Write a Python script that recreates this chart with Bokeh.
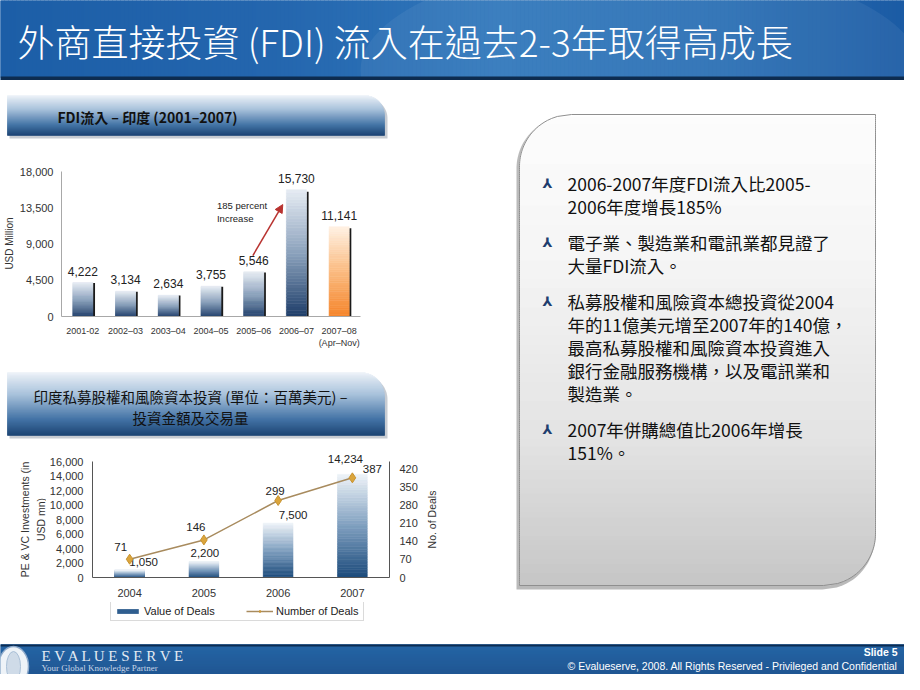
import math
from bokeh.plotting import figure
from bokeh.layouts import column, row
from bokeh.models import (Range1d, LinearAxis, FixedTicker, NumeralTickFormatter,
                          Arrow, NormalHead, Legend, LegendItem)
from bokeh.core.properties import value
from bokeh.embed import file_html
from bokeh.resources import INLINE

# ---------------- data ----------------
title_text = "外商直接投資  (FDI) 流入在過去2-3年取得高成長"

fdi_title = "FDI流入 – 印度 (2001–2007)"
fdi_periods = ["2001-02", "2002–03", "2003–04", "2004–05", "2005–06", "2006–07", "2007–08\n(Apr–Nov)"]
fdi_values = [4222, 3134, 2634, 3755, 5546, 15730, 11141]
fdi_ticks = [0, 4500, 9000, 13500, 18000]
fdi_axis_label = "USD Million"
fdi_note = ["185 percent", "Increase"]

pe_title = ["印度私募股權和風險資本投資 (單位：百萬美元) –", "投資金額及交易量"]
pe_years = ["2004", "2005", "2006", "2007"]
pe_values = [1050, 2200, 7500, 14234]
pe_deals = [71, 146, 299, 387]
pe_value_ticks = [0, 2000, 4000, 6000, 8000, 10000, 12000, 14000, 16000]
pe_deal_ticks = [0, 70, 140, 210, 280, 350, 420]
pe_left_label = ["PE & VC Investments (in", "USD mn)"]
pe_right_label = "No. of Deals"
pe_legend = ["Value of Deals", "Number of Deals"]

bullets = [
    ["2006-2007年度FDI流入比2005-", "2006年度增長185%"],
    ["電子業、製造業和電訊業都見證了", "大量FDI流入。"],
    ["私募股權和風險資本總投資從2004", "年的11億美元增至2007年的140億，",
     "最高私募股權和風險資本投資進入", "銀行金融服務機構，以及電訊業和", "製造業。"],
    ["2007年併購總值比2006年增長", "151%。"],
]
footer_slide = "Slide 5"
footer_copy = "© Evalueserve, 2008. All Rights Reserved - Privileged and Confidential"
logo_name = "E V A L U E S E R V E"
logo_tag = "Your Global Knowledge Partner"

# ---------------- helpers ----------------
LAT = "Liberation Sans"
CJK = "Noto Sans CJK TC"
NAN = float("nan")


def hex2rgb(h):
    return tuple(int(h[i:i + 2], 16) for i in (1, 3, 5))


def mix(c1, c2, t):
    a, b = hex2rgb(c1), hex2rgb(c2)
    t = min(max(t, 0.0), 1.0)
    return "#%02x%02x%02x" % tuple(int(round(a[i] + (b[i] - a[i]) * t)) for i in range(3))


def ramp(stops, t):
    for (p0, c0), (p1, c1) in zip(stops, stops[1:]):
        if t <= p1:
            return mix(c0, c1, (t - p0) / (p1 - p0) if p1 > p0 else 0)
    return stops[-1][1]


def edges(y, x0, x1, y0, y1, rtl, rtr, rbr, rbl):
    l, r = x0, x1
    if rtl and y < y0 + rtl:
        d = y0 + rtl - y
        l = x0 + rtl - math.sqrt(max(rtl * rtl - d * d, 0))
    if rbl and y > y1 - rbl:
        d = y - (y1 - rbl)
        l = x0 + rbl - math.sqrt(max(rbl * rbl - d * d, 0))
    if rtr and y < y0 + rtr:
        d = y0 + rtr - y
        r = x1 - rtr + math.sqrt(max(rtr * rtr - d * d, 0))
    if rbr and y > y1 - rbr:
        d = y - (y1 - rbr)
        r = x1 - rbr + math.sqrt(max(rbr * rbr - d * d, 0))
    return l, r


def outline(x0, x1, y0, y1, rtl=0, rtr=0, rbr=0, rbl=0, n=240):
    ys = [y0 + (y1 - y0) * k / n for k in range(n + 1)]
    lx = [edges(y, x0, x1, y0, y1, rtl, rtr, rbr, rbl)[0] for y in ys]
    rx = [edges(y, x0, x1, y0, y1, rtl, rtr, rbr, rbl)[1] for y in ys]
    return lx + rx[::-1], ys + ys[::-1]


def shaded_shape(p, x0, x1, y0, y1, stops, rtl=0, rtr=0, rbr=0, rbl=0, step=1.0):
    n = max(int(round((y1 - y0) / step)), 1)
    L, R, T, B, C = [], [], [], [], []
    for k in range(n):
        ya = y0 + (y1 - y0) * k / n
        yb = y0 + (y1 - y0) * (k + 1) / n
        ym = (ya + yb) / 2
        l, r = edges(ym, x0, x1, y0, y1, rtl, rtr, rbr, rbl)
        L.append(l); R.append(r); T.append(ya); B.append(yb)
        C.append(ramp(stops, (ym - y0) / (y1 - y0)))
    p.quad(left=L, right=R, top=T, bottom=B, fill_color=C, line_color=C, line_width=0.6)


def gradient_bars(p, xs, vals, half_w, stops_list, n=40, **kw):
    L, R, T, B, C = [], [], [], [], []
    for x, v, stops in zip(xs, vals, stops_list):
        for k in range(n):
            L.append(x - half_w); R.append(x + half_w)
            B.append(v * k / n); T.append(v * (k + 1) / n)
            C.append(ramp(stops, (k + 0.5) / n))
    return p.quad(left=L, right=R, top=T, bottom=B, fill_color=C, line_color=C,
                  line_width=0.6, **kw)


def canvas(w, h, bg="white"):
    p = figure(width=w, height=h, x_range=Range1d(0, w), y_range=Range1d(h, 0),
               x_axis_location=None, y_axis_location=None, min_border=0,
               output_backend="svg", toolbar_location=None, frame_align=False)
    p.outline_line_color = None
    p.grid.visible = False
    p.background_fill_color = bg
    p.border_fill_color = bg
    return p


def style_axis(ax, size="11px", color="#333333", line="#999999"):
    ax.major_tick_line_color = None
    ax.minor_tick_line_color = None
    ax.major_tick_out = 0
    ax.major_tick_in = 0
    ax.minor_tick_out = 0
    ax.minor_tick_in = 0
    ax.axis_line_color = line
    ax.major_label_text_font = LAT
    ax.major_label_text_font_size = size
    ax.major_label_text_color = color


def vlabel(p, xs, y, texts, size):
    p.text(x=xs, y=[y] * len(xs), text=texts, angle=math.pi / 2, text_align="center",
           text_baseline="middle", text_font=value(LAT), text_font_size=size, text_color="#333333")


# ---------------- title bar ----------------
tp = canvas(904, 80, "#1f62aa")
n_cols = 226
tx = [904 * k / n_cols for k in range(n_cols + 1)]
tcol = [ramp([(0, "#1c5ea7"), (0.3, "#2466ae"), (0.55, "#3077bb"), (0.8, "#2a6fb4"), (1, "#1b5ba4")],
             (k + 0.5) / n_cols) for k in range(n_cols)]
tp.quad(left=tx[:-1], right=tx[1:], top=0, bottom=77, fill_color=tcol, line_color=tcol, line_width=0.6)
tp.ellipse(x=[640], y=[70], width=560, height=220, fill_color="white", fill_alpha=0.06, line_color=None)
tp.quad(left=0, right=904, top=76, bottom=80, fill_color="#0d2c50", line_color=None)
tp.text(x=[17], y=[40], text=[title_text], text_color="white",
        text_font=value("Noto Sans CJK TC Light, Noto Sans CJK TC"),
        text_font_size="37px", text_baseline="middle", text_align="left")

# ---------------- header 1 ----------------
head_stops = [(0, "#eef3f9"), (0.35, "#a8c2dc"), (0.75, "#3d6fa3"), (1, "#163f70")]
h1 = canvas(460, 60)
sx, sy = outline(9, 387, 18, 58, rtr=20)
h1.patch(sx, sy, fill_color="#9aa3ad", fill_alpha=0.55, line_color=None)
shaded_shape(h1, 7, 384, 15, 55, head_stops, rtr=20)
h1.text(x=[147], y=[36], text=[fdi_title], text_color="#111111", text_font=value(CJK),
        text_font_size="14px", text_font_style="bold", text_align="center", text_baseline="middle")

# ---------------- chart 1 ----------------
l1 = canvas(16, 218)
vlabel(l1, [9], 103, [fdi_axis_label], "10px")
p1 = figure(width=444, height=218, x_range=Range1d(-0.5, 6.5), y_range=Range1d(0, 19000),
            min_border_left=44, min_border_right=100, min_border_top=23, min_border_bottom=42,
            output_backend="svg", toolbar_location=None, frame_align=False)
p1.outline_line_color = None
p1.grid.visible = False
idx1 = list(range(len(fdi_values)))
blue_stops = [(0, "#1e3e69"), (0.5, "#8ba1bc"), (1, "#e6ecf3")]
orange_stops = [(0, "#f5852a"), (0.55, "#fbc08a"), (1, "#fff1e3")]
stops1 = [blue_stops] * (len(fdi_values) - 1) + [orange_stops]
p1.quad(left=[i + 0.235 for i in idx1], right=[i + 0.285 for i in idx1], bottom=0,
        top=[v * 0.985 for v in fdi_values], fill_color="#1a1a1a", line_color=None)
gradient_bars(p1, idx1, fdi_values, 0.235, stops1)
p1.text(x=idx1, y=fdi_values, text=[f"{v:,}" for v in fdi_values], text_align="center",
        text_baseline="bottom", y_offset=-7, text_font=value(LAT), text_font_size="12px",
        text_color="#222222")
red = "#b8322f"
p1.add_layout(Arrow(end=NormalHead(size=8, fill_color=red, line_color=red),
                    x_start=3.98, y_start=7570, x_end=4.68, y_end=13900,
                    line_color=red, line_width=1.5))
p1.text(x=[3.14, 3.14], y=[13780, 12170], text=fdi_note, text_align="left",
        text_baseline="middle", text_font=value(LAT), text_font_size="9.5px", text_color="#222222")
p1.yaxis.ticker = FixedTicker(ticks=fdi_ticks)
p1.yaxis.formatter = NumeralTickFormatter(format="0,0")
p1.yaxis.bounds = (0, 18000)
p1.yaxis.major_label_standoff = 8
p1.xaxis.ticker = FixedTicker(ticks=idx1)
p1.xaxis.major_label_overrides = {i: lab for i, lab in zip(idx1, fdi_periods)}
p1.xaxis.major_label_standoff = 9
style_axis(p1.yaxis[0], size="11px", line="#a8a8a8")
style_axis(p1.xaxis[0], size="9px", line="#a8a8a8")

# ---------------- header 2 ----------------
h2 = canvas(460, 82)
sx, sy = outline(9, 387, 17, 80, rtr=24)
h2.patch(sx, sy, fill_color="#9aa3ad", fill_alpha=0.55, line_color=None)
shaded_shape(h2, 7, 384, 14, 77, head_stops, rtr=24)
h2.text(x=[190, 190], y=[38, 59], text=pe_title, text_color="#111111", text_font=value(CJK),
        text_font_size="14.5px", text_align="center", text_baseline="middle")

# ---------------- chart 2 ----------------
l2 = canvas(46, 162)
vlabel(l2, [24, 40], 79, pe_left_label, "10.5px")
Y2 = 18500
p2 = figure(width=374, height=162, x_range=Range1d(-0.5, 3.5), y_range=Range1d(0, Y2),
            min_border_left=44, min_border_right=31, min_border_top=3, min_border_bottom=25,
            output_backend="svg", toolbar_location=None, frame_align=False)
p2.extra_y_ranges = {"deals": Range1d(0, Y2 * 450 / 16000)}
p2.outline_line_color = None
p2.grid.visible = False
idx2 = list(range(len(pe_values)))
bar_col = "#2f5e8f"
bar2_stops = [(0, "#1b4a7b"), (0.5, "#7f9fbf"), (1, "#eef3f8")]
gradient_bars(p2, idx2, pe_values, 0.2, [bar2_stops] * len(pe_values))
val_dx = [14, 1, 15, -7]
val_dy = [-8, -9, -8, -15]
p2.text(x=idx2, y=pe_values, text=[f"{v:,}" for v in pe_values], x_offset=val_dx, y_offset=val_dy,
        text_align="center", text_baseline="middle", text_font=value(LAT), text_font_size="11.5px",
        text_color="#222222")
line_col, pt_fill, pt_line = "#a88b5e", "#dba53c", "#c89330"
p2.line(idx2, pe_deals, y_range_name="deals", line_color=line_col, line_width=1.5)
p2.scatter(idx2, pe_deals, y_range_name="deals", marker="diamond", size=10,
           fill_color=pt_fill, line_color=pt_line)
deal_dx = [-9, -8, -3, 20]
deal_dy = [-12, -13, -9, -9]
p2.text(x=idx2, y=pe_deals, y_range_name="deals", text=[str(v) for v in pe_deals],
        x_offset=deal_dx, y_offset=deal_dy, text_align="center", text_baseline="middle",
        text_font=value(LAT), text_font_size="11.5px", text_color="#222222")
p2.yaxis.ticker = FixedTicker(ticks=pe_value_ticks)
p2.yaxis.formatter = NumeralTickFormatter(format="0,0")
p2.yaxis.bounds = (0, 16000)
p2.yaxis.major_label_standoff = 9
style_axis(p2.yaxis[0], size="11px", line="#555555")
rax = LinearAxis(y_range_name="deals", ticker=FixedTicker(ticks=pe_deal_ticks), bounds=(0, 450),
                 major_label_standoff=10)
style_axis(rax, size="11px", line="#555555")
p2.add_layout(rax, "right")
p2.xaxis.ticker = FixedTicker(ticks=idx2)
p2.xaxis.major_label_overrides = {i: lab for i, lab in zip(idx2, pe_years)}
p2.xaxis.major_label_standoff = 11
style_axis(p2.xaxis[0], size="11px", line="#555555")
r2 = canvas(40, 162)
vlabel(r2, [11], 79, [pe_right_label], "10.5px")

# legend strip below chart 2
lg = canvas(460, 28)
leg_bar = lg.vbar(x=[NAN], top=[NAN], width=1, fill_color=bar_col, line_color=None)
leg_line = lg.line(x=[NAN, NAN], y=[NAN, NAN], line_color=line_col, line_width=1.5)
leg_pts = lg.scatter(x=[NAN], y=[NAN], marker="diamond", size=10, fill_color=pt_fill, line_color=pt_line)
legend = Legend(items=[LegendItem(label=pe_legend[0], renderers=[leg_bar]),
                       LegendItem(label=pe_legend[1], renderers=[leg_line, leg_pts])],
                orientation="horizontal", location=(110, 9), glyph_width=27, glyph_height=6,
                label_height=12, label_width=84, label_standoff=3, spacing=18, padding=3, margin=0,
                border_line_color="#b5b5b5", label_text_font=LAT, label_text_font_size="11px",
                label_text_color="#222222")
lg.add_layout(legend, "center")

# ---------------- right text box ----------------
rp = canvas(444, 550)
bx0, bx1, by0, by1, rad = 59, 415, 34, 505, 52
sx, sy = outline(bx0 - 3, bx1 - 1, by0 + 2, by1 + 4, rtl=rad, rbr=rad)
rp.patch(sx, sy, fill_color="#8c8c8c", fill_alpha=0.6, line_color=None)
shaded_shape(rp, bx0, bx1, by0, by1, [(0, "#ffffff"), (0.3, "#f8f8f8"), (0.7, "#e4e4e4"), (1, "#c6c6c6")],
             rtl=rad, rbr=rad)
sx, sy = outline(bx0, bx1, by0, by1, rtl=rad, rbr=rad)
rp.patch(sx, sy, fill_color=None, line_color="#8f8f8f", line_width=1)
line_h, para_gap, y_cur = 23, 13, 103
bx, by, lx, ly, lt = [], [], [], [], []
for para in bullets:
    bx.append(87); by.append(y_cur)
    for ln in para:
        lx.append(107); ly.append(y_cur); lt.append(ln)
        y_cur += line_h
    y_cur += para_gap
rp.text(x=bx, y=by, text=["⅄"] * len(bx), text_color="#1f3e6e", text_font=value("DejaVu Sans"),
        text_font_size="13px", text_font_style="bold", text_align="center", text_baseline="middle")
rp.text(x=lx, y=ly, text=lt, text_color="#111111", text_font=value(CJK), text_font_size="17.5px",
        text_align="left", text_baseline="middle")

# ---------------- footer ----------------
fp = canvas(904, 44)
shaded_shape(fp, 0, 904, 14, 44, [(0, "#1c5fa2"), (1, "#164f8e")])
fp.quad(left=0, right=904, top=14, bottom=16, fill_color="#0c2c52", line_color=None)
fp.ellipse(x=[13], y=[36], width=30, height=40, fill_color="#eef3f8", line_color="#8eaacb", line_width=1.5)
fp.ellipse(x=[13], y=[36], width=14, height=30, fill_color="#cfdbe8", line_color="#a9bfd6")
fp.text(x=[41], y=[25], text=[logo_name], text_color="#e2eaf3", text_font=value("Liberation Serif"),
        text_font_size="15px", text_baseline="middle", text_align="left")
fp.text(x=[41], y=[37], text=[logo_tag], text_color="#c6d5e6", text_font=value("Liberation Serif"),
        text_font_size="9px", text_baseline="middle", text_align="left")
fp.text(x=[897], y=[21], text=[footer_slide], text_color="white", text_font=value(LAT),
        text_font_size="10.5px", text_font_style="bold", text_baseline="middle", text_align="right")
fp.text(x=[897], y=[35], text=[footer_copy], text_color="white", text_font=value(LAT),
        text_font_size="10.5px", text_baseline="middle", text_align="right")

left_col = column(h1, row(l1, p1), h2, row(l2, p2, r2), lg)
layout = column(tp, row(left_col, rp), fp)
open("out.html", "w").write(file_html(layout, INLINE))
